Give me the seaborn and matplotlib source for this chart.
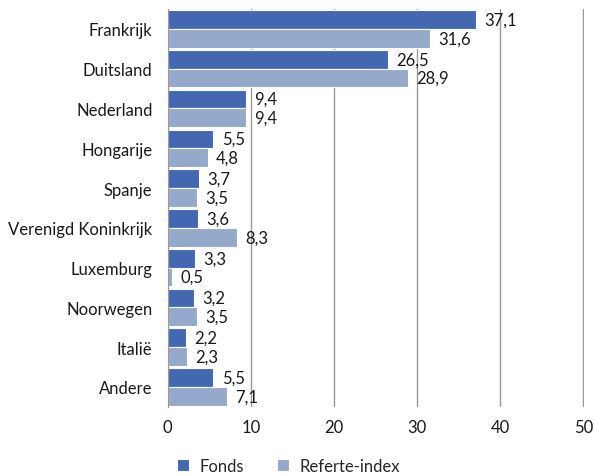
import matplotlib.pyplot as plt
import pandas as pd
import seaborn as sns

landen = ["Frankrijk", "Duitsland", "Nederland", "Hongarije", "Spanje",
          "Verenigd Koninkrijk", "Luxemburg", "Noorwegen", "Italië", "Andere"]
fonds = [37.1, 26.5, 9.4, 5.5, 3.7, 3.6, 3.3, 3.2, 2.2, 5.5]
referte = [31.6, 28.9, 9.4, 4.8, 3.5, 8.3, 0.5, 3.5, 2.3, 7.1]
reeksen = ["Fonds", "Referte-index"]
kleuren = ["#4368B1", "#95A9CB"]

df = pd.DataFrame({
    "land": landen * 2,
    "waarde": fonds + referte,
    "reeks": [reeksen[0]] * len(landen) + [reeksen[1]] * len(landen),
})

sns.set_style("white")
plt.rcParams["font.family"] = ["Lato", "DejaVu Sans"]
fs = 12

fig = plt.figure(figsize=(5.95, 4.77), dpi=100)
ax = fig.add_axes([0.282, 0.145, 0.699, 0.834])

sns.barplot(data=df, y="land", x="waarde", hue="reeks", palette=kleuren,
            orient="h", width=0.94, edgecolor="white", linewidth=0.8,
            saturation=1, ax=ax, legend=True)

for cont in ax.containers:
    ax.bar_label(cont, labels=[f"{v:.1f}".replace(".", ",") for v in cont.datavalues],
                 padding=6, fontsize=fs, color="#1a1a1a")

ax.set_xlim(0, 50.05)
ax.set_xticks(range(0, 51, 10))
ax.set_xlabel("")
ax.set_ylabel("")
ax.xaxis.grid(True, color="#999999", linewidth=1)
ax.set_axisbelow(True)
for s in ["top", "right", "bottom"]:
    ax.spines[s].set_visible(False)
ax.spines["left"].set_color("#999999")
ax.tick_params(axis="both", length=0, labelsize=fs, colors="#1a1a1a")
ax.tick_params(axis="y", pad=11)
ax.tick_params(axis="x", pad=9)

ax.legend(loc="upper left", bbox_to_anchor=(-0.015, -0.09), ncol=2, frameon=False,
          fontsize=fs, handlelength=0.75, handleheight=0.75, columnspacing=2.0,
          handletextpad=0.6)

fig.savefig("out.png", dpi=100)
